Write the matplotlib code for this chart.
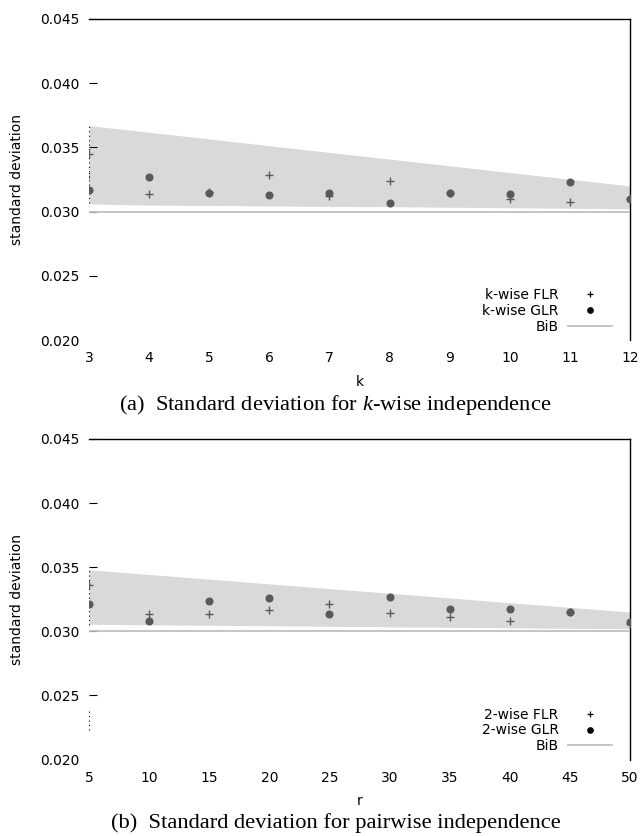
import numpy as np
import matplotlib
matplotlib.use('Agg')
import matplotlib.pyplot as plt
from matplotlib.lines import Line2D

plt.rcParams['font.family'] = ['DejaVu Sans']
plt.rcParams['mathtext.fontset'] = 'custom'
plt.rcParams['mathtext.rm'] = 'Liberation Serif'
plt.rcParams['mathtext.it'] = 'Liberation Serif:italic'

# k-wise independence
k = [3, 4, 5, 6, 7, 8, 9, 10, 11, 12]
k_flr = [0.03445, 0.03138, 0.03155, 0.03283, 0.03118, 0.03242, 0.03148, 0.03096, 0.03072, 0.03098]
k_glr = [0.03169, 0.03273, 0.03145, 0.03127, 0.03145, 0.03067, 0.03145, 0.03138, 0.03231, 0.03101]
k_hi = [0.0367, 0.03618, 0.03566, 0.03513, 0.03461, 0.03409, 0.03357, 0.03304, 0.03252, 0.0320]
k_lo = [0.0306, 0.0305, 0.03048, 0.03044, 0.0304, 0.03038, 0.03034, 0.0303, 0.03026, 0.03022]
k_bib = [0.030] * len(k)

# pairwise independence
r = [5, 10, 15, 20, 25, 30, 35, 40, 45, 50]
r_flr = [0.03361, 0.03137, 0.03137, 0.03164, 0.0321, 0.03145, 0.03109, 0.0308, 0.03148, 0.0306]
r_glr = [0.03215, 0.0308, 0.03236, 0.03262, 0.03137, 0.03265, 0.03172, 0.03172, 0.03148, 0.0307]
r_hi = [0.0348, 0.03443, 0.03407, 0.0337, 0.03333, 0.03297, 0.0326, 0.03223, 0.03187, 0.0315]
r_lo = [0.03055, 0.03051, 0.03047, 0.03043, 0.03039, 0.03035, 0.03031, 0.03027, 0.03023, 0.0302]
r_bib = [0.030] * len(r)

yticks = [0.020, 0.025, 0.030, 0.035, 0.040, 0.045]

grey = '#595959'
band = '#d9d9d9'
bibc = '#bfbfbf'
fs = 10


def paneel(ax, x, flr, glr, lo, hi, bib, xlab, names, kleine_ticks, err):
    ax.fill_between(x, lo, hi, color=band, lw=0, zorder=1)
    # dotted spread at the first point
    for seg in err:
        ax.plot([x[0], x[0]], seg, ls=(0, (1, 3)), color='black', lw=0.8, zorder=2)
    ax.plot(x, bib, color=bibc, lw=1.3, zorder=3)
    ax.plot(x, flr, ls='none', marker='+', ms=5.5, mew=1.0, color=grey, zorder=4)
    ax.plot(x, glr, ls='none', marker='o', ms=4.8, mec=grey, mfc=grey, zorder=4)

    ax.set_xlim(x[0], x[-1])
    ax.set_ylim(0.020, 0.045)
    ax.set_yticks(yticks)
    ax.set_yticklabels(['%.3f' % v for v in yticks])
    ax.set_xticks(x)
    ax.set_xticks(kleine_ticks, minor=True)
    ax.tick_params(axis='y', direction='in', length=5.5, width=0.8, pad=6.5,
                   labelsize=fs, right=False)
    ax.tick_params(axis='x', which='major', length=0, pad=8, labelsize=fs)
    ax.tick_params(axis='x', which='minor', direction='in', length=5.5, width=0.8)
    ax.yaxis.get_major_ticks()[0].tick1line.set_visible(False)

    for s in ['left', 'bottom']:
        ax.spines[s].set_visible(False)
    for s in ['top', 'right']:
        ax.spines[s].set_linewidth(1.0)

    ax.set_ylabel('standard deviation', fontsize=fs)
    ax.yaxis.set_label_coords(-0.12, 0.5)
    ax.set_xlabel(xlab, fontsize=fs, va='center')
    ax.xaxis.set_label_coords(0.5, -0.131)

    handles = [Line2D([], [], ls='none', marker='+', ms=4.5, mew=0.9, color='black'),
               Line2D([], [], ls='none', marker='o', ms=3.8, color='black'),
               Line2D([], [], color=bibc, lw=1.3)]
    ax.legend(handles, names, loc='lower right', bbox_to_anchor=(0.9667, 0.02),
              frameon=False, markerfirst=False, numpoints=1, fontsize=fs,
              handlelength=3.15, handletextpad=0.7, labelspacing=0.12,
              borderpad=0, borderaxespad=0)


fig = plt.figure(figsize=(6.42, 8.36), dpi=100)
ax1 = fig.add_axes([0.1386, 0.5933, 0.8427, 0.3840])
ax2 = fig.add_axes([0.1386, 0.0915, 0.8427, 0.3834])

paneel(ax1, k, k_flr, k_glr, k_lo, k_hi, k_bib, 'k',
       ['k-wise FLR', 'k-wise GLR', 'BiB'], [10, 11],
       [[0.0307, 0.0367], [0.0326, 0.0333]])
paneel(ax2, r, r_flr, r_glr, r_lo, r_hi, r_bib, 'r',
       ['2-wise FLR', '2-wise GLR', 'BiB'], [40, 45],
       [[0.0305, 0.0348], [0.0223, 0.0240]])

fig.text(0.5226, 1 - 405 / 836, r'(a)  Standard deviation for $k$-wise independence',
         ha='center', va='center', family='Liberation Serif', fontsize=16.2)
fig.text(0.5226, 1 - 823 / 836, '(b)  Standard deviation for pairwise independence',
         ha='center', va='center', family='Liberation Serif', fontsize=16.2)

fig.savefig('out.png', dpi=100)
